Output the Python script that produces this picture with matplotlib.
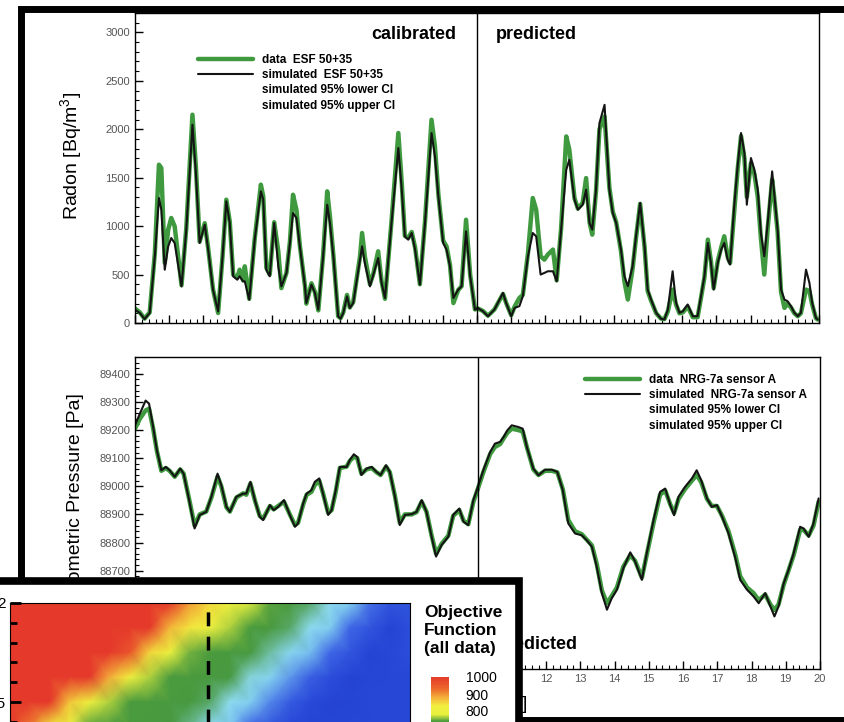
import numpy as np
import matplotlib
matplotlib.use('Agg')
import matplotlib.pyplot as plt
from matplotlib.patches import Rectangle
from matplotlib.colors import LinearSegmentedColormap, Normalize
from matplotlib.ticker import MultipleLocator

plt.rcParams['font.family'] = 'Liberation Sans'
plt.rcParams['mathtext.default'] = 'regular'

# radon, ESF 50+35 (time in days)
days_rn = [0.00, 0.14, 0.28, 0.43, 0.58, 0.70, 0.77, 0.87, 0.97, 1.06, 1.16, 1.36, 1.50, 1.68, 1.78,
           1.89, 2.04, 2.14, 2.28, 2.43, 2.56, 2.67, 2.77, 2.87, 2.99, 3.06, 3.16, 3.21, 3.34, 3.50,
           3.68, 3.75, 3.84, 3.94, 4.07, 4.19, 4.28, 4.43, 4.53, 4.62, 4.72, 4.82, 4.97, 5.01, 5.16,
           5.26, 5.36, 5.50, 5.62, 5.70, 5.80, 5.94, 6.01, 6.09, 6.20, 6.28, 6.38, 6.58, 6.64, 6.72,
           6.87, 6.97, 7.11, 7.21, 7.31, 7.50, 7.70, 7.80, 7.89, 7.99, 8.09, 8.19, 8.33, 8.48, 8.67,
           8.77, 8.87, 9.01, 9.11, 9.21, 9.31, 9.45, 9.55, 9.68, 9.80, 9.94, 10.02, 10.17, 10.32, 10.51,
           10.76, 10.85, 11.00, 11.10, 11.24, 11.34, 11.49, 11.63, 11.73, 11.86, 11.97, 12.07, 12.22, 12.33, 12.46,
           12.61, 12.70, 12.85, 12.95, 13.09, 13.19, 13.29, 13.37, 13.48, 13.58, 13.73, 13.87, 13.97, 14.07, 14.21,
           14.31, 14.41, 14.55, 14.65, 14.77, 14.90, 14.99, 15.09, 15.24, 15.38, 15.48, 15.58, 15.72, 15.82, 15.92,
           16.02, 16.16, 16.31, 16.45, 16.55, 16.65, 16.75, 16.84, 16.92, 17.04, 17.14, 17.23, 17.33, 17.40, 17.52,
           17.62, 17.72, 17.82, 17.89, 18.01, 18.11, 18.21, 18.30, 18.40, 18.50, 18.63, 18.69, 18.79, 18.89, 18.99,
           19.08, 19.18, 19.28, 19.38, 19.47, 19.62, 19.72, 19.80, 19.91, 19.96]
rn_sim = [138, 103, 41, 103, 688, 1290, 1170, 550, 790, 877, 825, 378, 963, 2047, 1548,
          826, 1015, 757, 344, 120, 688, 1256, 1032, 482, 447, 482, 430, 430, 241, 860,
          1359, 1273, 550, 482, 1032, 585, 378, 516, 826, 1135, 1084, 791, 378, 206, 396,
          310, 138, 688, 1221, 1032, 688, 69, 45, 103, 275, 155, 206, 654, 791, 619,
          378, 499, 671, 413, 258, 1032, 1806, 1376, 894, 860, 929, 757, 396, 1032, 1961,
          1720, 1307, 826, 757, 585, 258, 344, 378, 946, 482, 138, 156, 122, 70, 139,
          311, 208, 70, 156, 174, 277, 689, 929, 895, 500, 517, 534, 534, 431, 964,
          1582, 1685, 1273, 1170, 1221, 1376, 1032, 964, 1376, 2063, 2252, 1376, 1135, 1032, 758,
          483, 380, 586, 895, 1239, 792, 345, 242, 105, 43, 36, 139, 534, 208, 105,
          122, 191, 70, 70, 277, 483, 826, 620, 345, 620, 758, 826, 654, 603, 1204,
          1617, 1961, 1754, 1221, 1703, 1582, 1376, 929, 689, 1032, 1565, 1342, 964, 345, 242,
          225, 174, 105, 70, 105, 551, 414, 208, 53, 36]
rn_data = [150, 110, 45, 110, 720, 1634, 1600, 620, 963, 1084, 998, 390, 980, 2150, 1617,
           840, 1030, 770, 350, 103, 690, 1273, 1050, 500, 470, 550, 440, 585, 250, 870,
           1428, 1307, 570, 500, 1040, 740, 360, 520, 840, 1324, 1170, 800, 380, 200, 410,
           320, 130, 700, 1359, 1101, 700, 70, 50, 110, 290, 160, 215, 690, 929, 688,
           400, 510, 740, 430, 250, 1050, 1961, 1445, 900, 880, 940, 780, 400, 1050, 2098,
           1823, 1330, 850, 790, 600, 206, 340, 380, 1066, 500, 140, 150, 125, 75, 140,
           300, 210, 80, 170, 259, 290, 720, 1290, 1170, 689, 654, 706, 758, 440, 980,
           1926, 1789, 1290, 1180, 1240, 1496, 1040, 912, 1360, 2000, 2132, 1400, 1150, 1040, 740,
           430, 242, 560, 880, 1230, 780, 330, 230, 100, 45, 40, 120, 345, 190, 100,
           110, 170, 60, 60, 260, 470, 861, 640, 360, 640, 780, 895, 680, 620, 1150,
           1580, 1930, 1700, 1300, 1650, 1540, 1300, 880, 500, 980, 1480, 1300, 940, 320, 156,
           200, 160, 100, 70, 100, 345, 330, 190, 50, 36]

# barometric pressure, NRG-7a sensor A
days_p = [0.00, 0.14, 0.31, 0.41, 0.53, 0.64, 0.77, 0.90, 1.01, 1.16, 1.32, 1.42, 1.58, 1.74, 1.89,
          2.08, 2.23, 2.41, 2.52, 2.67, 2.77, 2.96, 3.16, 3.25, 3.37, 3.50, 3.64, 3.74, 3.94, 4.05,
          4.18, 4.35, 4.52, 4.67, 4.76, 4.91, 5.01, 5.15, 5.25, 5.38, 5.49, 5.64, 5.74, 5.86, 5.98,
          6.18, 6.27, 6.39, 6.49, 6.61, 6.76, 6.91, 7.05, 7.17, 7.33, 7.44, 7.59, 7.73, 7.88, 8.08,
          8.22, 8.37, 8.51, 8.66, 8.79, 8.95, 9.15, 9.29, 9.47, 9.59, 9.73, 9.88, 9.98, 10.17, 10.37,
          10.51, 10.66, 10.76, 10.87, 11.00, 11.19, 11.32, 11.44, 11.63, 11.78, 11.97, 12.17, 12.33, 12.49, 12.65,
          12.85, 13.04, 13.19, 13.34, 13.48, 13.63, 13.78, 13.92, 14.07, 14.26, 14.46, 14.60, 14.80, 14.94, 15.14,
          15.33, 15.48, 15.63, 15.74, 15.87, 16.06, 16.26, 16.40, 16.53, 16.70, 16.84, 16.99, 17.14, 17.33, 17.53,
          17.67, 17.87, 18.06, 18.21, 18.40, 18.55, 18.67, 18.79, 18.94, 19.08, 19.23, 19.42, 19.52, 19.67, 19.81,
          19.96]
p_sim = [89217, 89258, 89305, 89294, 89211, 89128, 89057, 89069, 89057, 89034, 89063, 89045, 88951, 88850, 88898,
         88909, 88963, 89045, 89004, 88927, 88909, 88963, 88974, 88974, 89016, 88951, 88892, 88880, 88933, 88915,
         88927, 88951, 88898, 88856, 88868, 88939, 88974, 88986, 89016, 89028, 88974, 88898, 88915, 88986, 89069,
         89069, 89093, 89114, 89104, 89040, 89063, 89069, 89051, 89040, 89075, 89051, 88963, 88862, 88898, 88901,
         88909, 88951, 88909, 88821, 88750, 88791, 88821, 88898, 88921, 88874, 88862, 88951, 88986, 89057, 89122,
         89152, 89158, 89175, 89199, 89217, 89211, 89205, 89140, 89063, 89039, 89059, 89059, 89051, 88986, 88868,
         88832, 88826, 88808, 88785, 88714, 88620, 88561, 88602, 88632, 88709, 88765, 88733, 88667, 88761, 88880,
         88980, 88992, 88933, 88897, 88963, 88998, 89028, 89057, 89022, 88957, 88927, 88933, 88892, 88832, 88744,
         88667, 88632, 88608, 88584, 88620, 88573, 88537, 88573, 88655, 88702, 88761, 88856, 88850, 88820, 88868,
         88957]
p_data = [89205, 89240, 89270, 89276, 89205, 89125, 89055, 89065, 89055, 89034, 89060, 89045, 88955, 88860, 88900,
          88910, 88960, 89035, 89000, 88925, 88910, 88960, 88975, 88970, 89010, 88950, 88895, 88885, 88930, 88918,
          88930, 88945, 88900, 88862, 88870, 88935, 88970, 88980, 89005, 89020, 88975, 88905, 88915, 88980, 89065,
          89070, 89090, 89105, 89100, 89045, 89060, 89065, 89050, 89040, 89070, 89050, 88965, 88870, 88900, 88900,
          88908, 88945, 88910, 88825, 88760, 88795, 88825, 88895, 88915, 88878, 88865, 88945, 88980, 89050, 89115,
          89140, 89150, 89170, 89190, 89205, 89200, 89195, 89140, 89060, 89040, 89055, 89055, 89050, 88990, 88880,
          88840, 88830, 88810, 88790, 88725, 88630, 88584, 88610, 88640, 88715, 88755, 88735, 88675, 88755, 88870,
          88970, 88985, 88935, 88905, 88955, 88990, 89020, 89040, 89015, 88955, 88930, 88930, 88895, 88840, 88755,
          88680, 88640, 88620, 88595, 88615, 88580, 88560, 88580, 88650, 88700, 88755, 88845, 88845, 88825, 88860,
          88945]

# objective function surface (all data)
obj_x = np.arange(21)
obj_y = [2.0, 1.875, 1.75, 1.625, 1.5, 1.375]
obj_vals = [
    [1050, 1050, 1050, 1050, 1050, 1050, 1050, 1050, 1050, 894, 847, 809, 776, 743, 696, 651, 617, 578, 534, 498, 500],
    [1050, 1050, 1050, 1050, 1050, 1050, 1050, 1000, 874, 835, 797, 764, 730, 690, 651, 615, 574, 530, 500, 470, 490],
    [1050, 1050, 1050, 1050, 1050, 1050, 960, 848, 790, 750, 721, 696, 670, 638, 600, 565, 530, 500, 470, 480, 490],
    [1050, 1050, 1050, 1050, 1030, 880, 816, 764, 729, 706, 683, 660, 626, 590, 550, 517, 490, 471, 474, 477, 480],
    [1050, 1050, 1000, 861, 808, 765, 732, 713, 694, 674, 651, 617, 581, 543, 512, 484, 471, 473, 476, 478, 480],
    [1030, 920, 836, 784, 744, 724, 705, 687, 669, 643, 609, 570, 530, 503, 477, 471, 473, 475, 477, 478, 480],
]
x_best = 9.9
cbar_ticks = [1000, 900, 800, 700, 600, 500]

W, H = 845, 722


def box(left, top, right, bottom):
    # pixel edges -> figure fraction
    return [left / W, 1 - bottom / H, (right - left) / W, (bottom - top) / H]


def style_axes(ax, major_y, minor_y):
    ax.set_xlim(0, 20)
    ax.xaxis.set_major_locator(MultipleLocator(1))
    ax.xaxis.set_minor_locator(MultipleLocator(0.2))
    ax.yaxis.set_major_locator(MultipleLocator(major_y))
    ax.yaxis.set_minor_locator(MultipleLocator(minor_y))
    ax.tick_params(which='both', direction='in', top=False, right=False,
                   labelsize=8, labelcolor='#555555')
    ax.tick_params(which='major', length=6, width=1)
    ax.tick_params(which='minor', length=3, width=0.8)
    for s in ax.spines.values():
        s.set_linewidth(1)
    ax.axvline(10, color='k', lw=1)


green = '#3f9a3f'
dark = '#141414'
line_kw = dict(solid_joinstyle='round', solid_capstyle='round')

fig = plt.figure(figsize=(W / 100, H / 100), dpi=100)

# radon panel
ax1 = fig.add_axes(box(135, 13, 819, 323))
ax1.plot(days_rn, rn_data, color=green, lw=3.2, label='data  ESF 50+35', **line_kw)
ax1.plot(days_rn, rn_sim, color=dark, lw=1.5, label='simulated  ESF 50+35', **line_kw)
ax1.plot([], [], color='none', label='simulated 95% lower CI')
ax1.plot([], [], color='none', label='simulated 95% upper CI')
ax1.set_ylim(0, 3200)
style_axes(ax1, 500, 100)
ax1.tick_params(axis='x', labelbottom=False)
ax1.set_ylabel('Radon [Bq/m$^3$]', fontsize=14)
ax1.yaxis.set_label_coords(-0.075, 0.54)
ax1.legend(loc='upper left', bbox_to_anchor=((198 - 135) / 684, (323 - 54) / 310),
           frameon=False, prop={'size': 8.5, 'weight': 'bold'}, handlelength=4.7,
           handletextpad=0.75, labelspacing=0.27, borderpad=0, borderaxespad=0)
ax1.text(9.4, 0.932, 'calibrated', transform=ax1.get_xaxis_transform(),
         ha='right', va='center', fontsize=13, weight='bold')
ax1.text(10.55, 0.932, 'predicted', transform=ax1.get_xaxis_transform(),
         ha='left', va='center', fontsize=13, weight='bold')

# pressure panel
ax2 = fig.add_axes(box(135, 357, 820, 669))
ax2.plot(days_p, p_data, color=green, lw=3.2, label='data  NRG-7a sensor A', **line_kw)
ax2.plot(days_p, p_sim, color=dark, lw=1.5, label='simulated  NRG-7a sensor A', **line_kw)
ax2.plot([], [], color='none', label='simulated 95% lower CI')
ax2.plot([], [], color='none', label='simulated 95% upper CI')
ax2.set_ylim(88350, 89460)
style_axes(ax2, 100, 20)
ax2.set_ylabel('Barometric Pressure [Pa]', fontsize=14)
ax2.yaxis.set_label_coords(-0.075, 0.535)
ax2.set_xlabel('Time [days]', fontsize=14, labelpad=9)
ax2.legend(loc='upper left', bbox_to_anchor=((585 - 135) / 685, (669 - 374) / 312),
           frameon=False, prop={'size': 8.5, 'weight': 'bold'}, handlelength=4.7,
           handletextpad=0.75, labelspacing=0.27, borderpad=0, borderaxespad=0)
ax2.text(9.4, 0.077, 'calibrated', transform=ax2.get_xaxis_transform(),
         ha='right', va='center', fontsize=13, weight='bold')
ax2.text(10.55, 0.077, 'predicted', transform=ax2.get_xaxis_transform(),
         ha='left', va='center', fontsize=13, weight='bold')

# outer frame
fig.add_artist(Rectangle((21.5 / W, 1 - 719.5 / H), 900 / W, 711 / H, transform=fig.transFigure,
                         fill=False, ec='k', lw=5, zorder=1))

# objective function inset
fig.add_artist(Rectangle((-30 / W, -0.1), 549.5 / W, 0.1 + 1 - 581 / H, transform=fig.transFigure,
                         fc='white', ec='k', lw=5.5, zorder=2))

cmap = LinearSegmentedColormap.from_list('objfun', [
    (0.0, '#1f3ccc'), ((480 - 450) / 550, '#2849d8'), ((530 - 450) / 550, '#3f66e6'),
    ((570 - 450) / 550, '#7fcbef'), ((620 - 450) / 550, '#8fdcef'), ((660 - 450) / 550, '#47983f'),
    ((740 - 450) / 550, '#4c9c3e'), ((780 - 450) / 550, '#e8f03e'), ((830 - 450) / 550, '#f2ee3e'),
    ((880 - 450) / 550, '#f4b03a'), ((930 - 450) / 550, '#ec6a2c'), (1.0, '#e53a2b')])
norm = Normalize(450, 1000)

ax3 = fig.add_axes(box(10, 603, 410, 726.75), zorder=3)
mesh = ax3.pcolormesh(obj_x, obj_y, np.array(obj_vals), shading='gouraud', cmap=cmap, norm=norm)
ax3.axvline(x_best, color='k', lw=2.5, ls=(0, (4, 3)))
ax3.set_xlim(obj_x[0], obj_x[-1])
ax3.set_ylim(obj_y[-1], obj_y[0])
ax3.set_xticks([])
ax3.set_yticks([2.0, 1.5])
ax3.set_yticklabels(['2', '1.5'])
ax3.yaxis.set_minor_locator(MultipleLocator(0.1))
ax3.tick_params(which='both', direction='in', labelsize=11, width=2, pad=3)
ax3.tick_params(which='major', length=8)
ax3.tick_params(which='minor', length=5)

cax = fig.add_axes(box(431, 677, 449, 677 + 550 * 0.17), zorder=3)
cbar = fig.colorbar(mesh, cax=cax, ticks=cbar_ticks)
cbar.outline.set_visible(False)
cax.tick_params(length=0, labelsize=10, pad=12)

fig.text(424 / W, 1 - 605 / H, 'Objective\nFunction\n(all data)', ha='left', va='top',
         fontsize=12.5, weight='bold', linespacing=1.25, zorder=4)

fig.savefig('out.png', dpi=100)
